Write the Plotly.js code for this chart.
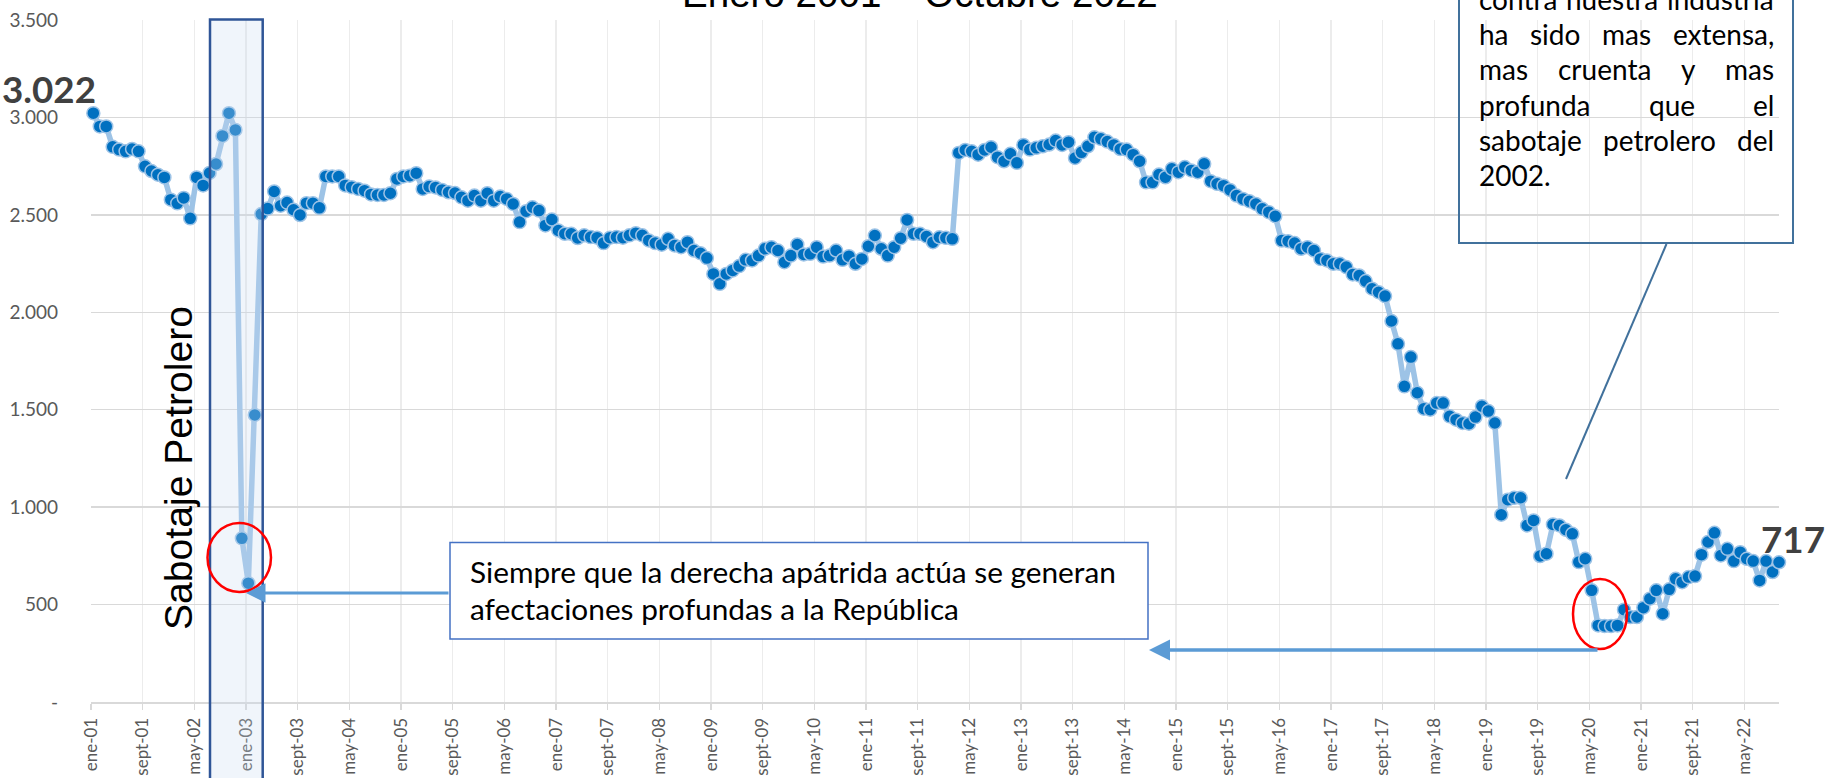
<!DOCTYPE html>
<html><head><meta charset="utf-8">
<script src="https://cdn.plot.ly/plotly-3.0.1.min.js"></script>
<style>html,body{margin:0;padding:0;background:#fff;overflow:hidden}</style>
</head><body><div id="chart" style="width:1829px;height:778px"></div>
<script>
// Producción petrolera (miles de barriles diarios), mensual, ene-2001 .. oct-2022
const prod2001 = [3022, 2954, 2954, 2849, 2835, 2826, 2838, 2826, 2749, 2725, 2706, 2692];
const prod2002 = [2578, 2559, 2587, 2482, 2692, 2651, 2715, 2761, 2905, 3022, 2936, 840];
const prod2003 = [610, 1473, 2504, 2532, 2620, 2547, 2563, 2526, 2499, 2560, 2560, 2536];
const prod2004 = [2697, 2697, 2697, 2651, 2642, 2633, 2624, 2605, 2602, 2602, 2611, 2684];
const prod2005 = [2697, 2701, 2714, 2633, 2645, 2641, 2628, 2616, 2612, 2590, 2573, 2599];
const prod2006 = [2573, 2611, 2573, 2594, 2582, 2556, 2463, 2519, 2539, 2522, 2446, 2476];
const prod2007 = [2420, 2403, 2403, 2381, 2395, 2386, 2383, 2355, 2383, 2386, 2383, 2395];
const prod2008 = [2406, 2395, 2369, 2355, 2347, 2377, 2343, 2334, 2360, 2317, 2303, 2278];
const prod2009 = [2197, 2146, 2197, 2215, 2237, 2269, 2266, 2291, 2326, 2334, 2317, 2257];
const prod2010 = [2291, 2348, 2297, 2300, 2334, 2286, 2291, 2317, 2269, 2288, 2249, 2274];
const prod2011 = [2339, 2394, 2326, 2291, 2334, 2380, 2474, 2403, 2403, 2389, 2360, 2385];
const prod2012 = [2382, 2377, 2818, 2833, 2826, 2809, 2833, 2847, 2796, 2775, 2813, 2767];
const prod2013 = [2859, 2835, 2844, 2852, 2861, 2881, 2859, 2873, 2792, 2821, 2852, 2898];
const prod2014 = [2890, 2876, 2859, 2838, 2835, 2809, 2775, 2667, 2667, 2707, 2693, 2736];
const prod2015 = [2719, 2745, 2728, 2719, 2762, 2673, 2659, 2650, 2628, 2599, 2582, 2570];
const prod2016 = [2556, 2531, 2514, 2493, 2368, 2365, 2355, 2326, 2334, 2317, 2274, 2266];
const prod2017 = [2249, 2249, 2232, 2194, 2189, 2160, 2121, 2103, 2083, 1955, 1838, 1620];
const prod2018 = [1770, 1587, 1505, 1500, 1534, 1534, 1466, 1449, 1432, 1428, 1462, 1518];
const prod2019 = [1493, 1432, 961, 1038, 1048, 1048, 906, 932, 749, 761, 911, 906];
const prod2020 = [884, 863, 718, 735, 573, 393, 390, 390, 393, 474, 436, 436];
const prod2021 = [484, 530, 573, 453, 578, 632, 615, 641, 646, 756, 821, 868];
const prod2022 = [752, 786, 723, 769, 735, 723, 624, 723, 667, 717];

const tickLabels = ['ene-01','sept-01','may-02','ene-03','sept-03','may-04','ene-05','sept-05','may-06',
  'ene-07','sept-07','may-08','ene-09','sept-09','may-10','ene-11','sept-11','may-12','ene-13','sept-13',
  'may-14','ene-15','sept-15','may-16','ene-17','sept-17','may-18','ene-19','sept-19','may-20','ene-21',
  'sept-21','may-22'];
const yTickValues = [0, 500, 1000, 1500, 2000, 2500, 3000, 3500];
const yTickLabels = ['-', '500', '1.000', '1.500', '2.000', '2.500', '3.000', '3.500'];

const tituloTexto = 'Enero 2001 – Octubre 2022';
const notaIzquierda = ['Siempre que la derecha apátrida actúa se generan', 'afectaciones profundas a la República'];
const notaDerecha = ['contra nuestra industria', 'ha sido mas extensa,', 'mas cruenta y mas', 'profunda que el', 'sabotaje petrolero del', '2002.'];
const etiquetaSabotaje = 'Sabotaje Petrolero';

// ---- build ----
const produccion = [].concat(prod2001, prod2002, prod2003, prod2004, prod2005, prod2006, prod2007, prod2008,
  prod2009, prod2010, prod2011, prod2012, prod2013, prod2014, prod2015, prod2016, prod2017, prod2018,
  prod2019, prod2020, prod2021, prod2022);
const mesIdx = produccion.map((_, i) => i);
const OFF = 0.36;
const tickVals = tickLabels.map((_, k) => k * 8 - OFF);
const fmt = v => String(v).replace(/\B(?=(\d{3})+(?!\d))/g, '.');

const PL = 91, PT = 20, PW = 1688, PH = 682, PB = PT + PH;
const fx = p => (p - PL) / PW;
const fy = p => (PB - p) / PH;
const ctx = document.createElement('canvas').getContext('2d');
const medir = (t, f) => { ctx.font = f.replace('SZ', '100px'); return ctx.measureText(t).width / 100; };

const LATO = 'Lato, sans-serif';
const LIB = 'Liberation Sans, Arial, sans-serif';
function texto(t, x, baseY, size, fam, opts) {
  const k = fam === LATO ? 0.387 : 0.3465;
  return Object.assign({
    xref: 'paper', yref: 'paper', x: fx(x), y: fy(baseY - k * size),
    xanchor: 'left', yanchor: 'middle', text: t, showarrow: false,
    font: {family: fam, size: size, color: '#000'}, borderpad: 0, borderwidth: 0
  }, opts || {});
}

const ann = [];
// Title (cut at the top, as in the reference)
const fsT = 476 / medir(tituloTexto, 'SZ Liberation Sans');
ann.push(texto(tituloTexto, 920, 7, fsT, LIB, {xanchor: 'center'}));

// Vertical label
const fsS = 324 / medir(etiquetaSabotaje, 'SZ Liberation Sans');
ann.push({xref: 'paper', yref: 'paper', x: fx(178), y: fy(468), xanchor: 'center', yanchor: 'middle',
  text: etiquetaSabotaje, textangle: -90, showarrow: false, font: {family: LIB, size: fsS, color: '#000'},
  borderpad: 0, borderwidth: 0});

// First / last value labels
const primer = fmt(produccion[0]);
const ultimo = fmt(produccion[produccion.length - 1]);
const fsV = 94 / medir(primer, 'bold SZ Lato');
ann.push(texto('<b>' + primer + '</b>', 2, 103, fsV, LATO, {font: {family: LATO, size: fsV, color: '#404040'}}));
ann.push(texto('<b>' + ultimo + '</b>', 1761, 553, fsV, LATO, {font: {family: LATO, size: fsV, color: '#404040'}}));

// Left note
const fsL = 646 / medir(notaIzquierda[0], 'SZ Lato');
notaIzquierda.forEach((ln, i) => ann.push(texto(ln, 470, 583 + i * 37.5, fsL, LATO)));

// Right note (justified)
let fsR = fsL * 0.94;
fsR = Math.min(fsR, 292 / medir(notaDerecha[0], 'SZ Lato'));
const RX = 1479, RW = 295;
notaDerecha.forEach((ln, i) => {
  const base = 9.5 + i * 35.3;
  if (i === notaDerecha.length - 1) { ann.push(texto(ln, RX, base, fsR, LATO)); return; }
  const words = ln.split(' ');
  const ws = words.map(w => medir(w, 'SZ Lato') * fsR);
  const gap = (RW - ws.reduce((a, b) => a + b, 0)) / (words.length - 1);
  let cx = RX;
  words.forEach((w, j) => { ann.push(texto(w, cx, base, fsR, LATO)); cx += ws[j] + gap; });
});

// Arrows
ann.push({xref: 'paper', yref: 'paper', x: fx(246), y: fy(593), ax: 450 - 246, ay: 0, axref: 'pixel', ayref: 'pixel',
  text: '', showarrow: true, arrowhead: 2, arrowsize: 1.3, arrowwidth: 3, arrowcolor: '#5b9bd5'});
ann.push({xref: 'paper', yref: 'paper', x: fx(1149), y: fy(650), ax: 1599 - 1149, ay: 0, axref: 'pixel', ayref: 'pixel',
  text: '', showarrow: true, arrowhead: 2, arrowsize: 1.2, arrowwidth: 3.5, arrowcolor: '#5b9bd5'});

const shapes = [
  {type: 'rect', xref: 'paper', yref: 'paper', x0: fx(210), x1: fx(262.7), y0: fy(790), y1: fy(19.5),
   fillcolor: 'rgba(200,218,240,0.28)', line: {color: '#2f5597', width: 2.5}, layer: 'above'},
  {type: 'circle', xref: 'paper', yref: 'paper', x0: fx(207.5), x1: fx(271), y0: fy(592), y1: fy(523),
   line: {color: '#ff0000', width: 2.5}, layer: 'above'},
  {type: 'circle', xref: 'paper', yref: 'paper', x0: fx(1573), x1: fx(1627), y0: fy(649), y1: fy(579),
   line: {color: '#ff0000', width: 2.5}, layer: 'above'},
  {type: 'rect', xref: 'paper', yref: 'paper', x0: fx(450), x1: fx(1148), y0: fy(639), y1: fy(542.5),
   fillcolor: '#ffffff', line: {color: '#4472c4', width: 1.5}, layer: 'above'},
  {type: 'rect', xref: 'paper', yref: 'paper', x0: fx(1459), x1: fx(1793), y0: fy(243), y1: fy(-60),
   fillcolor: 'rgba(0,0,0,0)', line: {color: '#41719c', width: 2}, layer: 'above'},
  {type: 'line', xref: 'paper', yref: 'paper', x0: fx(1666.5), y0: fy(244), x1: fx(1566), y1: fy(479),
   line: {color: '#41719c', width: 2}, layer: 'above'}
];

const trace = {
  x: mesIdx, y: produccion, type: 'scatter', mode: 'lines+markers',
  line: {color: '#9dc3e6', width: 5.5},
  marker: {size: 13, color: '#0070c0', line: {color: '#9dc3e6', width: 1.5}},
  cliponaxis: false, hoverinfo: 'skip'
};

const layout = {
  width: 1829, height: 778, autosize: false,
  margin: {l: PL, r: 1829 - PL - PW, t: PT, b: 778 - PB, pad: 0},
  paper_bgcolor: '#fff', plot_bgcolor: '#fff', showlegend: false,
  xaxis: {
    range: [-OFF, 261.0], tickmode: 'array', tickvals: tickVals, ticktext: tickLabels, tickangle: -90,
    showgrid: true, gridcolor: '#ececec', gridwidth: 1.5, zeroline: false,
    showline: true, linecolor: '#d9d9d9', linewidth: 2,
    ticks: 'outside', ticklen: 6, tickcolor: '#d9d9d9', tickwidth: 1.5,
    tickfont: {family: LATO, size: 17, color: '#595959'}, ticklabelstandoff: 1, fixedrange: true
  },
  yaxis: {
    range: [0, 3500], tickmode: 'array', tickvals: yTickValues, ticktext: yTickLabels,
    showgrid: true, gridcolor: '#d9d9d9', gridwidth: 1.5, zeroline: false, showline: false, ticks: '',
    tickfont: {family: LATO, size: 19, color: '#595959'}, ticklabelstandoff: 32, fixedrange: true
  },
  shapes: shapes, annotations: ann
};

Plotly.newPlot('chart', [trace], layout, {displayModeBar: false, staticPlot: true});
</script>
</body></html>
